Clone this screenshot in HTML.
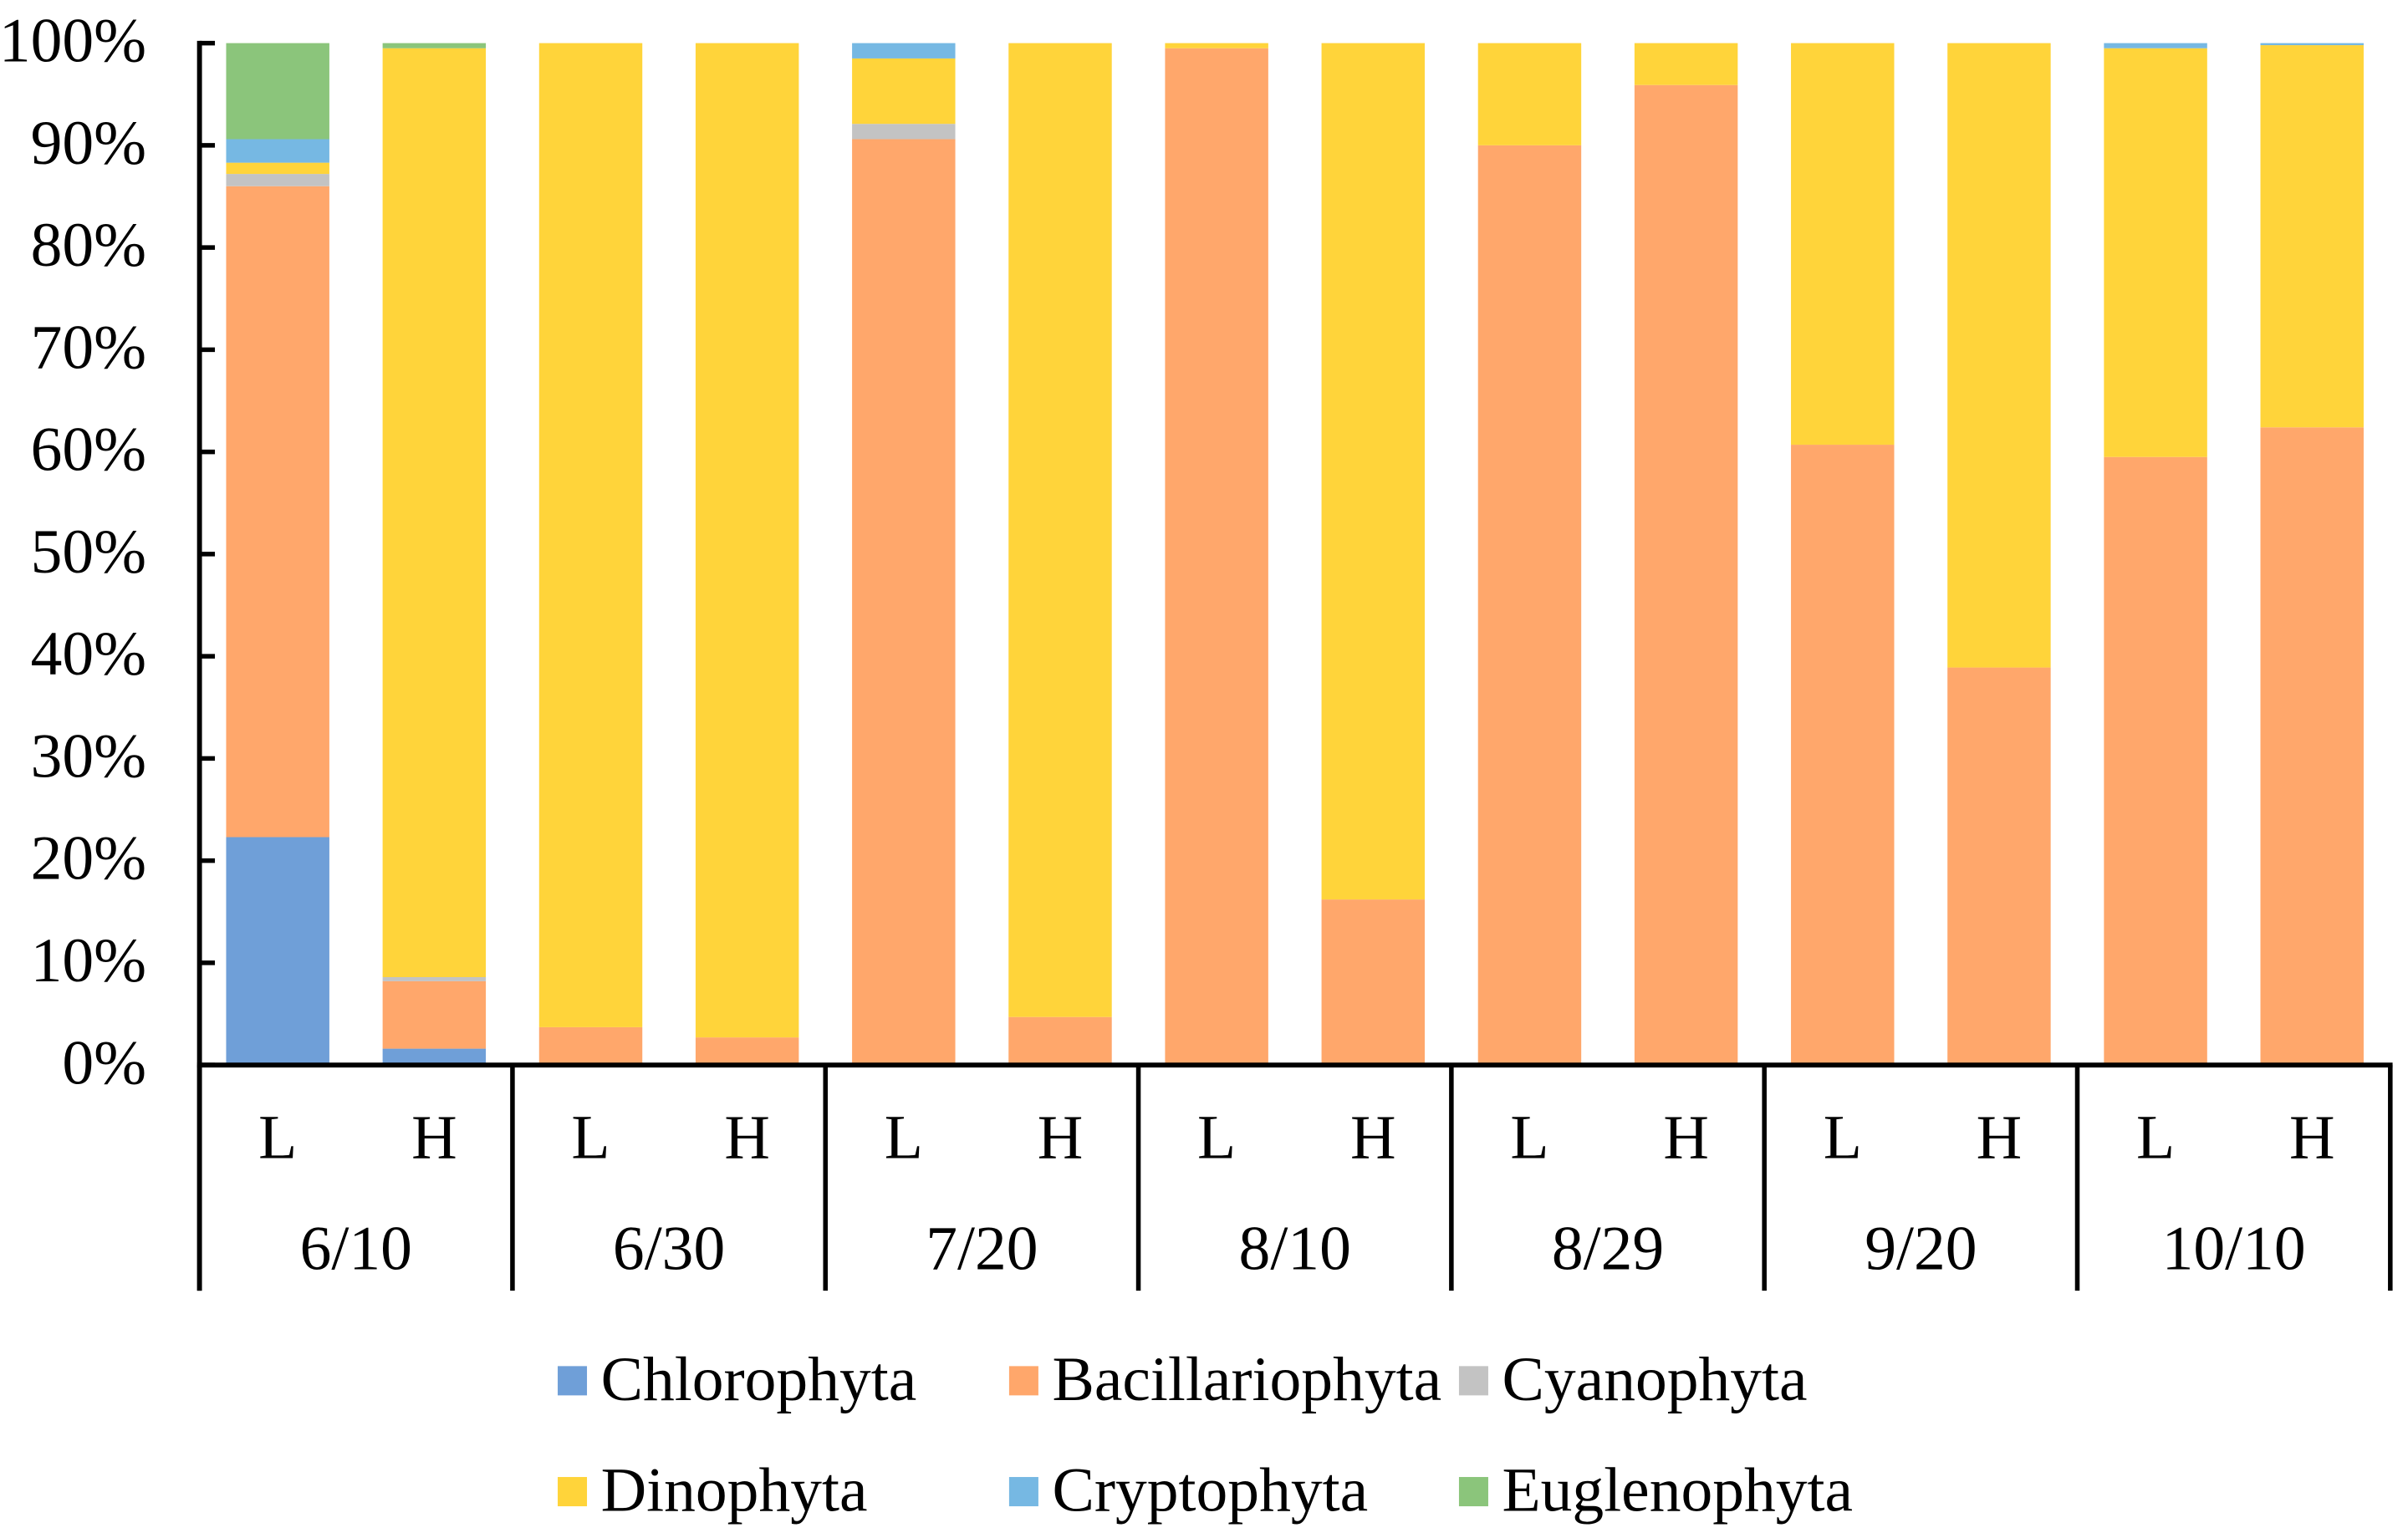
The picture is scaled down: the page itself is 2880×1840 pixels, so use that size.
<!DOCTYPE html>
<html><head><meta charset="utf-8"><style>
html,body{margin:0;padding:0;background:#fff;}
svg{display:block;}
text{font-family:"Liberation Serif",serif;fill:#000;}
</style></head><body>
<svg id="chart" width="2880" height="1840" viewBox="0 0 1563 998.6" preserveAspectRatio="none" xmlns="http://www.w3.org/2000/svg">
<g id="bars"></g>
<g id="axes"></g>
<g id="legend"></g>
</svg>
<script>
const dates = ["6/10","6/30","7/20","8/10","8/29","9/20","10/10"];
const levels = ["L","H"];
const seriesNames = ["Chlorophyta","Bacillariophyta","Cyanophyta","Dinophyta","Cryptophyta","Euglenophyta"];
const chlorophyta     = [22.3,1.6, 0,0, 0,0, 0,0, 0,0, 0,0, 0,0];
const bacillariophyta = [63.7,6.6, 3.7,2.7, 90.6,4.7, 99.5,16.2, 90,95.9, 60.7,38.9, 59.5,62.4];
const cyanophyta      = [1.2,0.4, 0,0, 1.5,0, 0,0, 0,0, 0,0, 0,0];
const dinophyta       = [1.1,90.9, 96.3,97.3, 6.4,95.3, 0.5,83.8, 10,4.1, 39.3,61.1, 40.0,37.4];
const cryptophyta     = [2.3,0, 0,0, 1.5,0, 0,0, 0,0, 0,0, 0.5,0.2];
const euglenophyta    = [9.4,0.5, 0,0, 0,0, 0,0, 0,0, 0,0, 0,0];
const yTicks = [0,10,20,30,40,50,60,70,80,90,100];

const series=[chlorophyta,bacillariophyta,cyanophyta,dinophyta,cryptophyta,euglenophyta];
const colors=["#6f9fd8","#ffa76b","#c3c3c3","#ffd43a","#76b8e3","#8bc57b"];
const NS="http://www.w3.org/2000/svg";
const X0=129.5,X1=1551.5,Y0=691.5,Y1=28;
const groupW=(X1-X0)/dates.length, slotW=groupW/2, barW=67;
const y=v=>Y0-(v/100)*(Y0-Y1);
const xc=i=>X0+slotW*(i+0.5);
function mk(tag,attrs,parent){const e=document.createElementNS(NS,tag);for(const k in attrs)e.setAttribute(k,attrs[k]);parent.appendChild(e);return e;}
const bars=document.getElementById('bars'),axes=document.getElementById('axes'),legend=document.getElementById('legend');
const n=dates.length*levels.length;
for(let i=0;i<n;i++){
  let acc=0;
  for(let s=0;s<series.length;s++){
    const v=series[s][i]; if(!v){continue;}
    const r=mk('rect',{x:xc(i)-barW/2,y:y(acc+v),width:barW,height:y(acc)-y(acc+v),fill:colors[s]},bars);
    
    
    acc+=v;
  }
}
mk('line',{x1:X0,y1:Y1-1.5,x2:X0,y2:838,stroke:'#000','stroke-width':3.2},axes);
mk('line',{x1:X0-1.5,y1:Y0,x2:X1+1.5,y2:Y0,stroke:'#000','stroke-width':3.2},axes);
yTicks.forEach(t=>{
  mk('line',{x1:X0,y1:y(t),x2:X0+10,y2:y(t),stroke:'#000','stroke-width':3},axes);
  const tx=mk('text',{x:95,y:y(t)+12,'text-anchor':'end','font-size':41},axes);
  tx.textContent=t+'%';
  
  
});
for(let g=0;g<=dates.length;g++){
  mk('line',{x1:X0+groupW*g,y1:Y0,x2:X0+groupW*g,y2:838,stroke:'#000','stroke-width':3},axes);
}
for(let i=0;i<n;i++){
  const tx=mk('text',{x:xc(i),y:752,'text-anchor':'middle','font-size':41},axes);
  tx.textContent=levels[i%2];
  
  
}
dates.forEach((d,g)=>{
  const tx=mk('text',{x:X0+groupW*(g+0.5),y:824,'text-anchor':'middle','font-size':41},axes);
  tx.textContent=d;
  
  
});
const lx=[362,655,947], ly=[897,969];
seriesNames.forEach((nm,s)=>{
  const gx=lx[s%3], gy=ly[Math.floor(s/3)];
  const g=mk('g',{},legend);
  
  
  mk('rect',{x:gx,y:gy-10,width:19,height:19,fill:colors[s]},g);
  const tx=mk('text',{x:gx+28,y:gy+12,'font-size':41},g);
  tx.textContent=nm;
});
</script>
</body></html>
